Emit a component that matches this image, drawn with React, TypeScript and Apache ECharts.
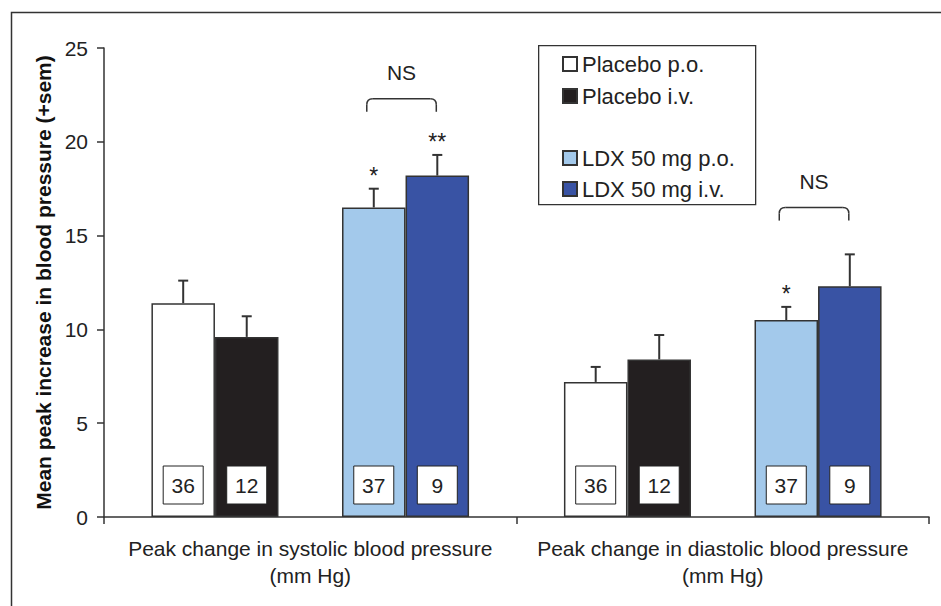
import React, { useEffect, useRef } from 'react';
import * as echarts from 'echarts';

const categories = [
  'Peak change in systolic blood pressure\n(mm Hg)',
  'Peak change in diastolic blood pressure\n(mm Hg)',
];
const seriesNames = ['Placebo p.o.', 'Placebo i.v.', 'LDX 50 mg p.o.', 'LDX 50 mg i.v.'];
const placeboPO = [11.4, 7.2];
const placeboIV = [9.6, 8.4];
const ldxPO = [16.5, 10.5];
const ldxIV = [18.2, 12.3];
const placeboPOSem = [1.2, 0.8];
const placeboIVSem = [1.1, 1.3];
const ldxPOSem = [1.0, 0.7];
const ldxIVSem = [1.1, 1.7];
const groupSizes = [36, 12, 37, 9];
const ldxPOStars = ['*', '*'];
const ldxIVStars = ['**', ''];
const nsBracketTop = [22.3, 16.5];
const nsBracketLeg = [21.6, 15.8];
const nsLabels = ['NS', 'NS'];
const yMin = 0;
const yMax = 25;
const yInterval = 5;

const FONT = '"Liberation Sans", Arial, Helvetica, sans-serif';
const colors = ['#ffffff', '#231f20', '#a3c9eb', '#3953a4'];
const CAT_GAP = 0.23;
const SLOTS = 5;

export default function App() {
  const ref = useRef<HTMLDivElement>(null);
  useEffect(() => {
    if (!ref.current) return;
    const chart = echarts.init(ref.current, undefined, { renderer: 'svg' });

    const values = [placeboPO, placeboIV, ldxPO, ldxIV];
    const sems = [placeboPOSem, placeboIVSem, ldxPOSem, ldxIVSem];
    const stars = [['', ''], ['', ''], ldxPOStars, ldxIVStars];
    const slots = [0, 1, 3, 4];

    const decorData: number[][] = [];
    const decorStars: string[] = [];
    categories.forEach((_, c) => {
      values.forEach((arr, s) => {
        decorData.push([c, arr[c], sems[s][c], slots[s], groupSizes[s]]);
        decorStars.push(stars[s][c]);
      });
    });

    const bracketData = categories.map((_, c) => [c, nsBracketTop[c], nsBracketLeg[c]]);

    const barSeries: any[] = [];
    values.forEach((arr, s) => {
      if (s === 2) {
        barSeries.push({
          type: 'bar',
          name: '__gap',
          data: categories.map(() => '-'),
          barGap: 0,
          barCategoryGap: CAT_GAP * 100 + '%',
        });
      }
      barSeries.push({
        type: 'bar',
        name: seriesNames[s],
        data: arr,
        barGap: 0,
        barCategoryGap: CAT_GAP * 100 + '%',
        itemStyle: { color: colors[s], borderColor: '#333', borderWidth: 1.5 },
      });
    });

    const legendCommon = {
      orient: 'vertical',
      left: 557,
      itemWidth: 14,
      itemHeight: 14,
      icon: 'rect',
      selectedMode: false,
      textStyle: { fontSize: 22, color: '#222', fontFamily: FONT },
    };

    chart.setOption({
      animation: false,
      textStyle: { fontFamily: FONT },
      grid: { left: 104, right: 12, top: 48, bottom: 89 },
      legend: [
        { ...legendCommon, top: 48, itemGap: 10, data: seriesNames.slice(0, 2) },
        { ...legendCommon, top: 142, itemGap: 9, data: seriesNames.slice(2, 4) },
      ],
      graphic: [
        {
          type: 'rect',
          left: 9,
          top: 10,
          shape: { width: 1000, height: 1000 },
          style: { fill: 'none', stroke: '#333', lineWidth: 1.5 },
          silent: true,
        },
        {
          type: 'rect',
          left: 538,
          top: 45,
          shape: { width: 217, height: 159 },
          style: { fill: '#fff', stroke: '#333', lineWidth: 1.3 },
          z: -1,
          silent: true,
        },
      ],
      xAxis: {
        type: 'category',
        data: categories,
        axisLine: { lineStyle: { color: '#333', width: 1.5 } },
        axisTick: { show: true, length: 7, lineStyle: { color: '#333', width: 1.5 } },
        axisLabel: {
          interval: 0,
          fontSize: 21,
          color: '#222',
          margin: 18,
          lineHeight: 27,
          fontFamily: FONT,
        },
      },
      yAxis: {
        type: 'value',
        min: yMin,
        max: yMax,
        interval: yInterval,
        name: 'Mean peak increase in blood pressure (+sem)',
        nameLocation: 'middle',
        nameGap: 50,
        nameTextStyle: { fontSize: 21, fontWeight: 'bold', color: '#111', fontFamily: FONT },
        axisLine: { show: true, lineStyle: { color: '#333', width: 1.5 } },
        axisTick: { show: true, length: 7, lineStyle: { color: '#333', width: 1.5 } },
        axisLabel: { fontSize: 21, color: '#222', margin: 16, fontFamily: FONT },
        splitLine: { show: false },
      },
      series: [
        ...barSeries,
        {
          type: 'custom',
          name: '__decor',
          clip: false,
          z: 5,
          data: decorData,
          renderItem: (params: any, api: any) => {
            const cat = api.value(0);
            const val = api.value(1);
            const sem = api.value(2);
            const slot = api.value(3);
            const n = api.value(4);
            const band = api.size([1, 0])[0];
            const bw = (band * (1 - CAT_GAP)) / SLOTS;
            const base = api.coord([cat, 0]);
            const cx = base[0] + (slot - (SLOTS - 1) / 2) * bw;
            const yTop = api.coord([cat, val])[1];
            const yErr = api.coord([cat, val + sem])[1];
            const star = decorStars[params.dataIndex];
            const lineStyle = { stroke: '#333', lineWidth: 2 };
            const children: any[] = [
              { type: 'line', shape: { x1: cx, y1: yTop, x2: cx, y2: yErr }, style: lineStyle },
              { type: 'line', shape: { x1: cx - 5, y1: yErr, x2: cx + 5, y2: yErr }, style: lineStyle },
              {
                type: 'rect',
                shape: { x: cx - 20, y: base[1] - 13 - 38, width: 40, height: 38 },
                style: { fill: '#fff', stroke: '#222', lineWidth: 1 },
              },
              {
                type: 'text',
                x: cx,
                y: base[1] - 13 - 19,
                style: {
                  text: String(n),
                  fontSize: 21,
                  fill: '#222',
                  fontFamily: FONT,
                  align: 'center',
                  verticalAlign: 'middle',
                },
              },
            ];
            if (star) {
              children.push({
                type: 'text',
                x: cx,
                y: yErr - 1,
                style: {
                  text: star,
                  fontSize: 23,
                  fill: '#222',
                  fontFamily: FONT,
                  align: 'center',
                  verticalAlign: 'bottom',
                },
              });
            }
            return { type: 'group', children };
          },
        },
        {
          type: 'custom',
          name: '__ns',
          clip: false,
          z: 5,
          data: bracketData,
          renderItem: (params: any, api: any) => {
            const cat = api.value(0);
            const top = api.value(1);
            const leg = api.value(2);
            const band = api.size([1, 0])[0];
            const bw = (band * (1 - CAT_GAP)) / SLOTS;
            const base = api.coord([cat, 0]);
            const x1 = base[0] + 1 * bw - 7;
            const x2 = base[0] + 2 * bw - 1;
            const yt = api.coord([cat, top])[1];
            const yb = api.coord([cat, leg])[1];
            const r = 6;
            const st = { stroke: '#333', lineWidth: 1.5, fill: 'none' };
            return {
              type: 'group',
              children: [
                { type: 'line', shape: { x1: x1, y1: yb, x2: x1, y2: yt + r }, style: st },
                { type: 'bezierCurve', shape: { x1: x1, y1: yt + r, cpx1: x1, cpy1: yt, x2: x1 + r, y2: yt }, style: st },
                { type: 'line', shape: { x1: x1 + r, y1: yt, x2: x2 - r, y2: yt }, style: st },
                { type: 'bezierCurve', shape: { x1: x2 - r, y1: yt, cpx1: x2, cpy1: yt, x2: x2, y2: yt + r }, style: st },
                { type: 'line', shape: { x1: x2, y1: yt + r, x2: x2, y2: yb }, style: st },
                {
                  type: 'text',
                  x: (x1 + x2) / 2,
                  y: yt - 26,
                  style: {
                    text: nsLabels[params.dataIndex],
                    fontSize: 21,
                    fill: '#222',
                    fontFamily: FONT,
                    align: 'center',
                    verticalAlign: 'middle',
                  },
                },
              ],
            };
          },
        },
      ],
    });
    return () => chart.dispose();
  }, []);
  return (
    <div
      ref={ref}
      style={{ position: 'absolute', left: 0, top: 0, width: 941, height: 606, background: '#fff' }}
    />
  );
}
